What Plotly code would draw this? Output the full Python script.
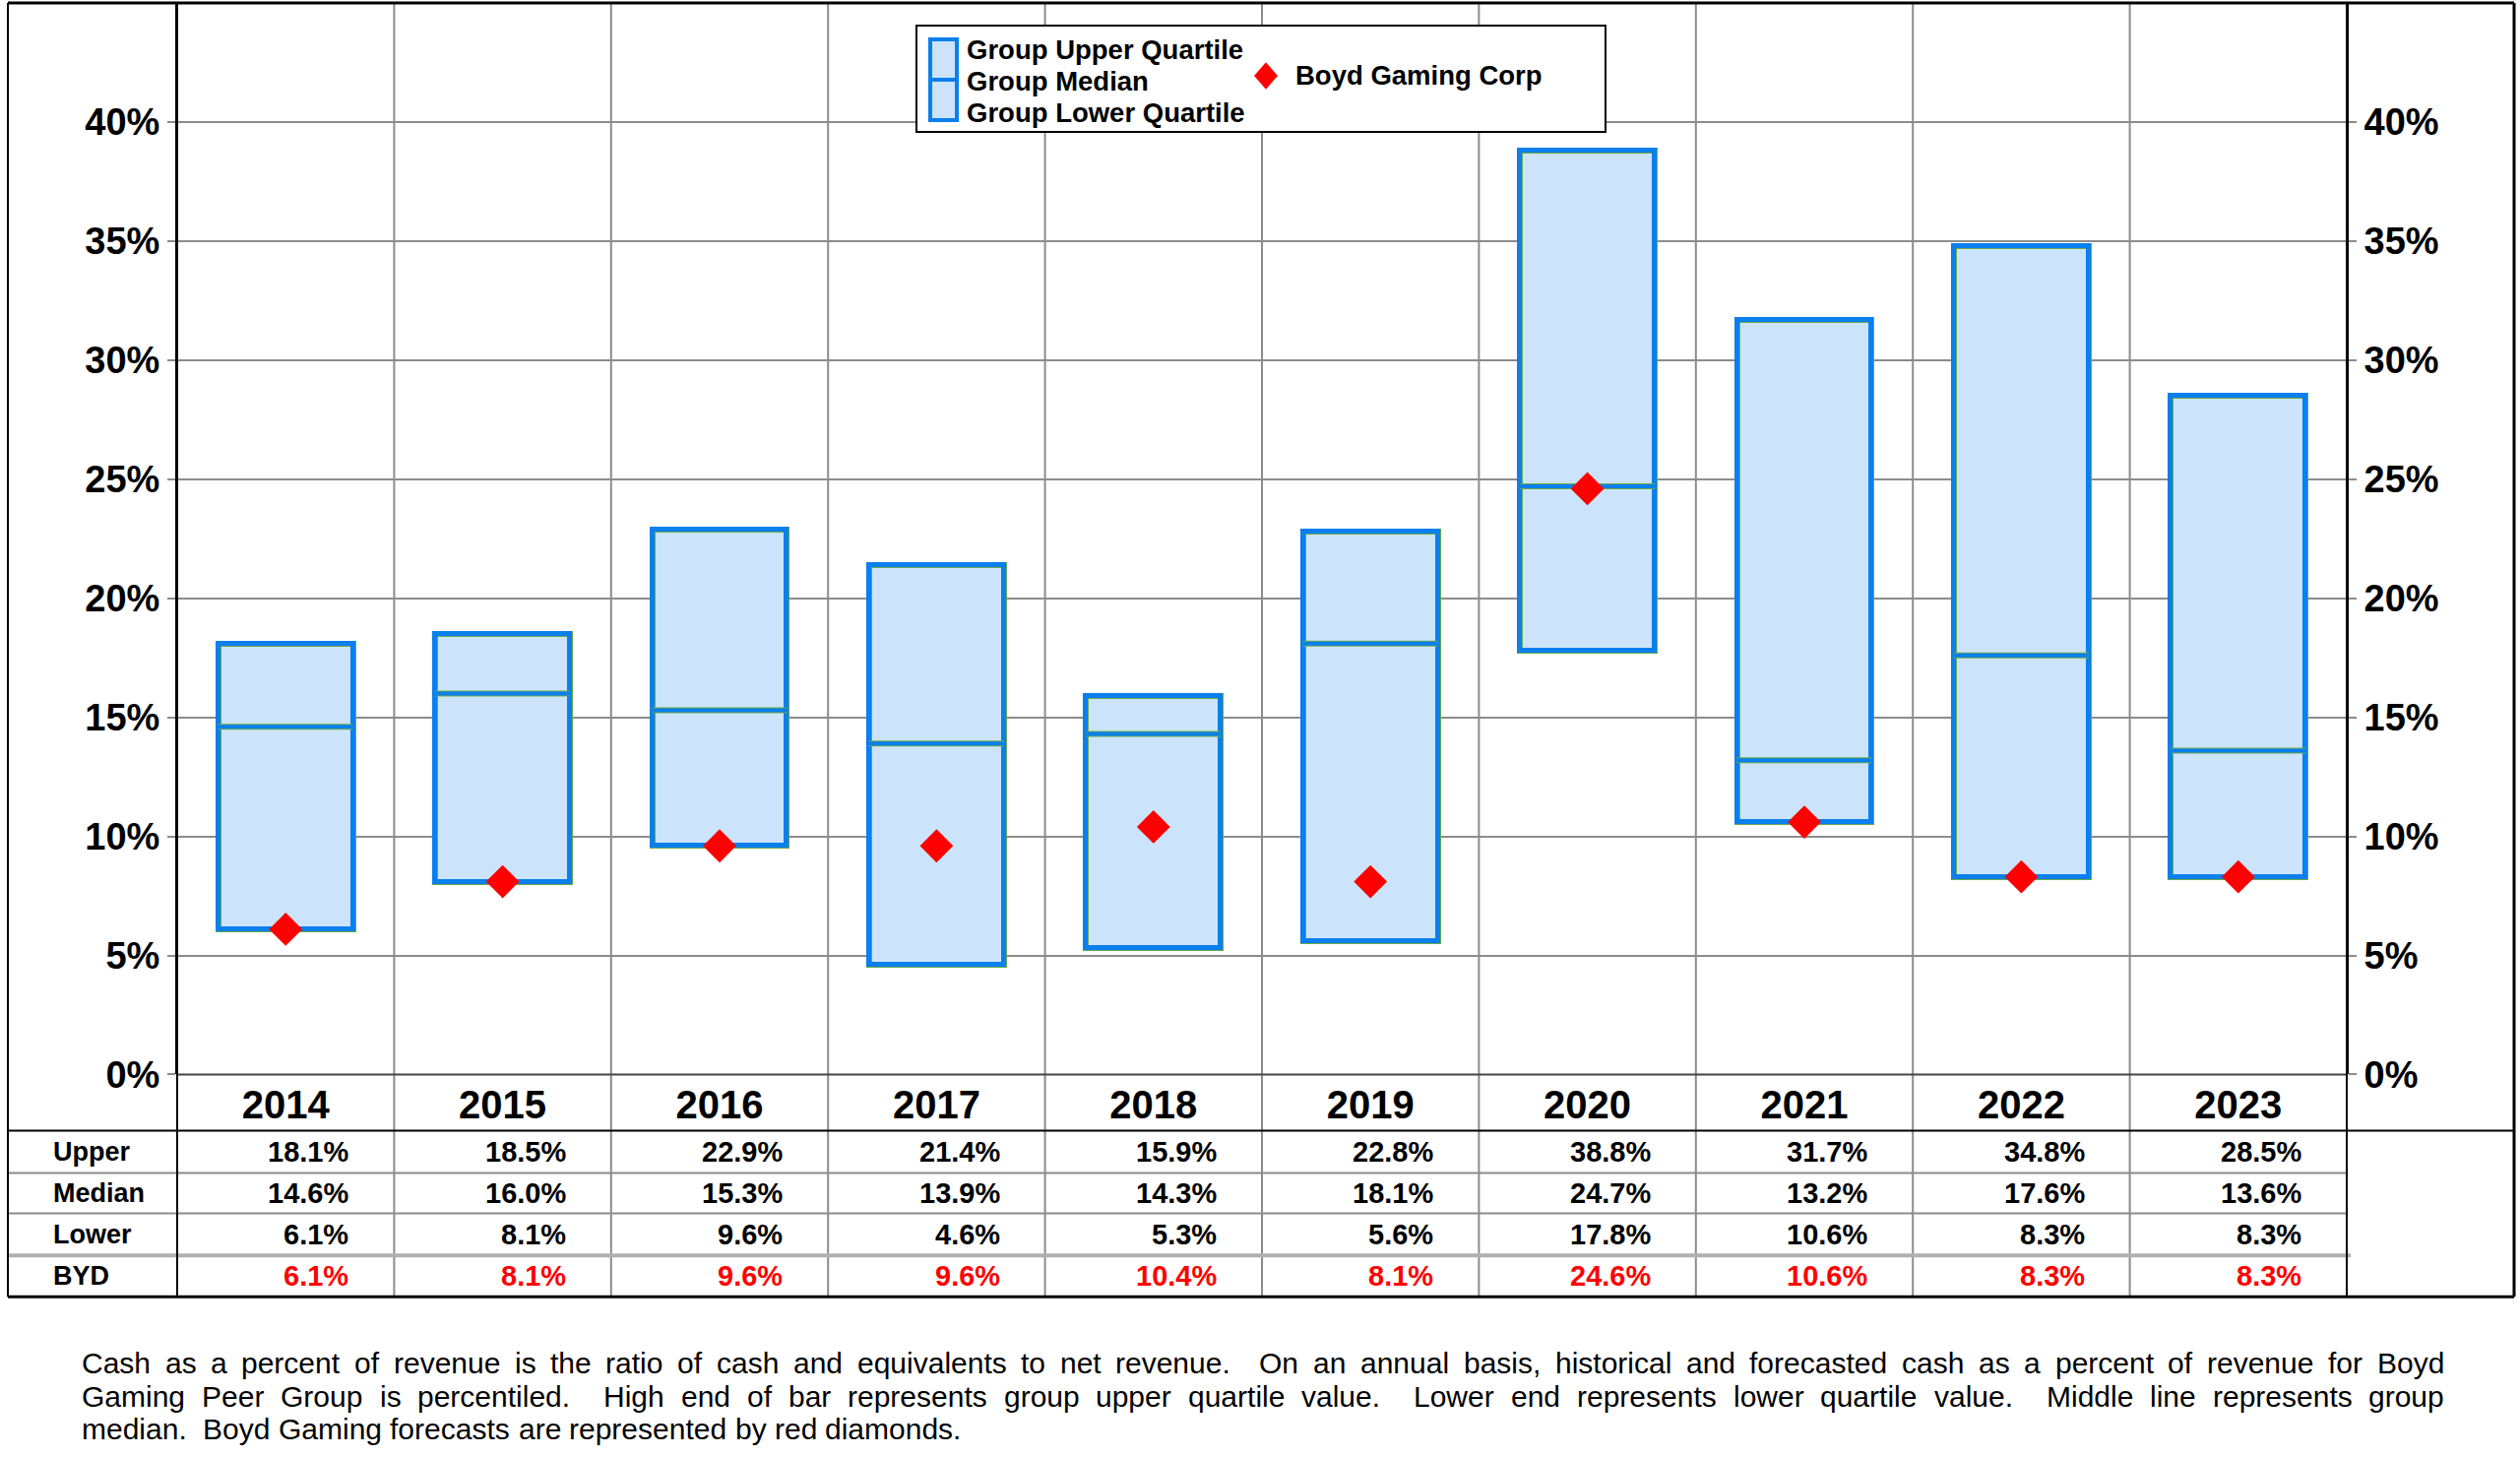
import plotly.graph_objects as go

# ---------------- data ----------------
years = ["2014", "2015", "2016", "2017", "2018", "2019", "2020", "2021", "2022", "2023"]
upper = [18.1, 18.5, 22.9, 21.4, 15.9, 22.8, 38.8, 31.7, 34.8, 28.5]
median = [14.6, 16.0, 15.3, 13.9, 14.3, 18.1, 24.7, 13.2, 17.6, 13.6]
lower = [6.1, 8.1, 9.6, 4.6, 5.3, 5.6, 17.8, 10.6, 8.3, 8.3]
byd = [6.1, 8.1, 9.6, 9.6, 10.4, 8.1, 24.6, 10.6, 8.3, 8.3]
y_ticks = [0, 5, 10, 15, 20, 25, 30, 35, 40]
row_labels = ["Upper", "Median", "Lower", "BYD"]
legend_labels = ["Group Upper Quartile", "Group Median", "Group Lower Quartile"]
company = "Boyd Gaming Corp"
footnote_lines = [
    "Cash as a percent of revenue is the ratio of cash and equivalents to net revenue.  On an annual basis, "
    "historical and forecasted cash as a percent of revenue for Boyd",
    "Gaming Peer Group is percentiled.  High end of bar represents group upper quartile value.  "
    "Lower end represents lower quartile value.  Middle line represents group",
    "median.  Boyd Gaming forecasts are represented by red diamonds.",
]

# ---------------- geometry helpers (pixels -> paper) ----------------
W, H = 2560, 1500
SY = 1.0137   # vertical compensation measured against the reference
def px(x):
    return x / W
def py(y):
    return 1 - (y * SY) / H

FONT = "Liberation Sans, Arial, Helvetica, sans-serif"
BLUE = "#0a7fee"
GREEN = "#6ca948"
FILL = "#cce4fb"
GRID = "#8c8c8c"
BOX_W = 0.62

xi = list(range(len(years)))

fig = go.Figure()

# boxes (lower -> upper): thin green edge under blue border
span = [u - l for u, l in zip(upper, lower)]
fig.add_trace(go.Bar(
    x=xi, y=span, base=lower, width=BOX_W,
    marker=dict(color=FILL, line=dict(color=GREEN, width=6)),
    hoverinfo="skip", showlegend=False))
fig.add_trace(go.Bar(
    x=xi, y=span, base=lower, width=BOX_W,
    marker=dict(color="rgba(0,0,0,0)", line=dict(color=BLUE, width=5)),
    hoverinfo="skip", showlegend=False))

# median lines
mx, my = [], []
for i, m in zip(xi, median):
    mx += [i - BOX_W / 2, i + BOX_W / 2, None]
    my += [m, m, None]
fig.add_trace(go.Scatter(x=mx, y=my, mode="lines", line=dict(color=GREEN, width=6),
                         hoverinfo="skip", showlegend=False))
fig.add_trace(go.Scatter(x=mx, y=my, mode="lines", line=dict(color=BLUE, width=4),
                         hoverinfo="skip", showlegend=False))

# company diamonds
fig.add_trace(go.Scatter(x=xi, y=byd, mode="markers",
                         marker=dict(symbol="diamond", size=26, color="#ff0000", line=dict(width=0)),
                         hoverinfo="skip", showlegend=False))

# dummy trace so the right axis is drawn
fig.add_trace(go.Scatter(x=[xi[0]], y=[0], yaxis="y2", mode="markers",
                         marker=dict(opacity=0), hoverinfo="skip", showlegend=False))

X0, X1 = 180, 2384      # plot left/right
Y0, YT = 1092, 3        # 0% line, top
OUT_L, OUT_R = 8, 2554
TBL_TOP, TBL_BOT = 1149, 1318
row_lines = [1192, 1233]
byd_line = 1276
row_centers = [1171, 1213, 1255, 1297]

tickfont = dict(family=FONT, size=38, color="black", weight="bold")
fig.update_layout(
    width=W, height=H, margin=dict(l=0, r=0, t=0, b=0),
    paper_bgcolor="white", plot_bgcolor="white",
    showlegend=False, bargap=0, barmode="overlay",
    xaxis=dict(domain=[px(X0), px(X1)], range=[-0.5, len(years) - 0.5],
               tickvals=xi, ticktext=years,
               tickfont=dict(family=FONT, size=40, color="black", weight="bold"),
               ticks="", ticklabelstandoff=4,
               showgrid=False, zeroline=False, showline=False),
    yaxis=dict(domain=[py(Y0), py(YT)], range=[0, 45],
               tickvals=y_ticks, ticktext=[f"{v}%" for v in y_ticks], tickfont=tickfont,
               ticks="outside", ticklen=8, tickcolor=GRID, tickwidth=2,
               showgrid=True, gridcolor=GRID, gridwidth=2,
               zeroline=False, showline=True, linecolor="black", linewidth=2),
    yaxis2=dict(overlaying="y", side="right", matches="y", range=[0, 45],
                tickvals=y_ticks, ticktext=[f"{v}%" for v in y_ticks], tickfont=tickfont,
                ticks="outside", ticklen=8, tickcolor=GRID, tickwidth=2,
                showgrid=False, zeroline=False, showline=True, linecolor="black", linewidth=2),
)

shapes = []
def hline(y, x0, x1, color="black", width=2):
    shapes.append(dict(type="line", xref="paper", yref="paper", x0=px(x0), x1=px(x1),
                       y0=py(y), y1=py(y), line=dict(color=color, width=width), layer="above"))
def vline(x, y0, y1, color="black", width=2):
    shapes.append(dict(type="line", xref="paper", yref="paper", x0=px(x), x1=px(x),
                       y0=py(y0), y1=py(y1), line=dict(color=color, width=width), layer="above"))

# category separators through plot and table
for i in xi[:-1]:
    shapes.append(dict(type="line", xref="x", yref="paper", x0=i + 0.5, x1=i + 0.5,
                       y0=py(TBL_BOT), y1=py(YT), line=dict(color=GRID, width=2), layer="below"))

# 0% axis line
hline(Y0, X0, X1, "#444444", 2)
# outer frame & table
hline(YT, OUT_L, OUT_R, "black", 3)
hline(TBL_TOP, OUT_L, OUT_R, "black", 2)
hline(TBL_BOT, OUT_L, OUT_R, "black", 3)
for y in row_lines:
    hline(y, OUT_L, X1, GRID, 2)
hline(byd_line, OUT_L, X1 + 4, "#b0b0b0", 4)
vline(OUT_L, YT, TBL_BOT, "black", 2)
vline(OUT_R, YT, TBL_BOT, "black", 3)
vline(X0, YT, TBL_BOT, "black", 2)
vline(X1, YT, TBL_BOT, "black", 2)

annotations = []
# table rows
table_rows = [upper, median, lower, byd]
for label, vals, yc in zip(row_labels, table_rows, row_centers):
    annotations.append(dict(xref="paper", yref="paper", x=px(52), y=py(yc), xanchor="left", yanchor="middle",
                            text=label, showarrow=False,
                            font=dict(family=FONT, size=27, color="black", weight="bold")))
    color = "#ff0000" if label == "BYD" else "black"
    for i, v in zip(xi, vals):
        annotations.append(dict(xref="x", yref="paper", x=i + 0.3, y=py(yc), xanchor="right", yanchor="middle",
                                text=f"{v:.1f}%", showarrow=False,
                                font=dict(family=FONT, size=29, color=color, weight="bold")))

# legend
LG_L, LG_T, LG_R, LG_B = 931, 26, 1631, 134
shapes.append(dict(type="rect", xref="paper", yref="paper", x0=px(LG_L), x1=px(LG_R), y0=py(LG_B), y1=py(LG_T),
                   line=dict(color="black", width=2), fillcolor="white", layer="above"))
shapes.append(dict(type="rect", xref="paper", yref="paper", x0=px(945), x1=px(972), y0=py(122), y1=py(40),
                   line=dict(color=BLUE, width=4), fillcolor=FILL, layer="above"))
shapes.append(dict(type="line", xref="paper", yref="paper", x0=px(945), x1=px(972), y0=py(81), y1=py(81),
                   line=dict(color=BLUE, width=4), layer="above"))
for lbl, yc in zip(legend_labels, [51, 83, 115]):
    annotations.append(dict(xref="paper", yref="paper", x=px(980), y=py(yc), xanchor="left", yanchor="middle",
                            text=lbl, showarrow=False,
                            font=dict(family=FONT, size=27.5, color="black", weight="bold")))
dx, dy, dc = 1286, 77, 12
shapes.append(dict(type="path", xref="paper", yref="paper",
                   path=f"M {px(dx - dc)},{py(dy)} L {px(dx)},{py(dy - dc * 1.15)} L {px(dx + dc)},{py(dy)} L {px(dx)},{py(dy + dc * 1.15)} Z",
                   fillcolor="#ff0000", line=dict(width=0), layer="above"))
annotations.append(dict(xref="paper", yref="paper", x=px(1314), y=py(77), xanchor="left", yanchor="middle",
                        text=company, showarrow=False,
                        font=dict(family=FONT, size=27.5, color="black", weight="bold")))

# footnote: justified lines (approximate Arial metrics, units of 1/1000 em)
AW = {' ': 278, '.': 278, ',': 278, 'a': 556, 'b': 556, 'c': 500, 'd': 556, 'e': 556, 'f': 278, 'g': 556,
      'h': 556, 'i': 222, 'j': 222, 'k': 500, 'l': 222, 'm': 833, 'n': 556, 'o': 556, 'p': 556, 'q': 556,
      'r': 333, 's': 500, 't': 278, 'u': 556, 'v': 500, 'w': 722, 'x': 500, 'y': 500, 'z': 500,
      'B': 667, 'C': 722, 'G': 778, 'H': 722, 'L': 556, 'M': 833, 'O': 778, 'P': 667}
FN_SIZE = 30
FN_X0, FN_X1 = 82, 2482
fn_centers = [1385, 1419, 1452]

def text_w(s):
    return sum(AW.get(c, 556) for c in s) / 1000 * FN_SIZE

for li, (line, yc) in enumerate(zip(footnote_lines, fn_centers)):
    words = line.split()
    gaps = [2 if w.endswith('.') else 1 for w in words[:-1]]
    sp = AW[' '] / 1000 * FN_SIZE
    natural = sum(text_w(w) for w in words) + sum(gaps) * sp
    justify = li < len(footnote_lines) - 1
    extra_per_unit = (FN_X1 - FN_X0 - natural) / sum(gaps) if justify else 0
    x = FN_X0
    for k, w in enumerate(words):
        annotations.append(dict(xref="paper", yref="paper", x=px(x), y=py(yc), xanchor="left", yanchor="middle",
                                text=w, showarrow=False, borderpad=0,
                                font=dict(family=FONT, size=FN_SIZE, color="black")))
        if k < len(gaps):
            x += text_w(w) + gaps[k] * (sp + extra_per_unit)

fig.update_layout(shapes=shapes, annotations=annotations)
fig.write_html("out.html", config={"displayModeBar": False},
               post_script="document.body.style.margin='0';document.body.style.overflow='hidden';")
